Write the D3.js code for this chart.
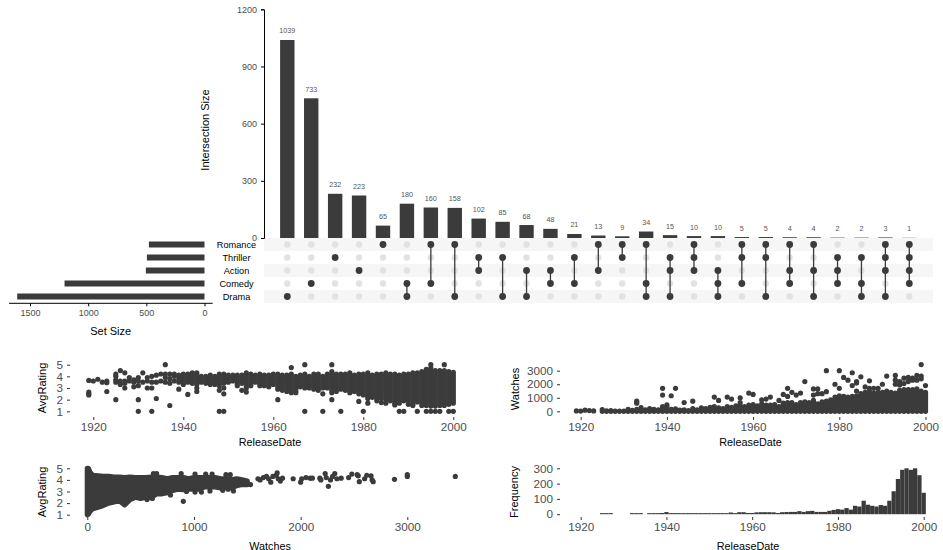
<!DOCTYPE html>
<html><head><meta charset="utf-8">
<script src="https://cdn.jsdelivr.net/npm/d3@7/dist/d3.min.js"></script>
<style>html,body{margin:0;padding:0;background:#fff}svg{display:block}text{font-family:"Liberation Sans",Arial,sans-serif}</style>
</head><body><svg id="c" width="943" height="550"></svg>
<script>
// ---------- UpSet data ----------
const setNames = ["Romance","Thriller","Action","Comedy","Drama"];
const setSizes = [478,495,504,1203,1610];
const intersectionSizes = [1039,733,232,223,65,180,160,158,102,85,68,48,21,13,9,34,15,10,10,5,5,4,4,2,2,3,1];
const intersectionSets = ["D","C","T","A","R","CD","RC","RD","TA","TD","AD","AC","TC","RA","RT","RCD","TAD","RTA","ACD","RTC","RTD","RAC","RAD","TAC","TCD","RTAD","RTAC"];
const setKeys = ["R","T","A","C","D"];
const intersectionTicks = [0,300,600,900,1200];
const setSizeTicks = [0,500,1000,1500];
// ---------- AvgRating vs ReleaseDate: [year, low, high] of overplotted bands ----------
const ratingYearBands = [[1940,3.3,4.2],[1941,3.5,4.2],[1942,3.4,4.3],[1943,3.3,4.3],[1944,3.5,4.0],[1945,3.4,4.0],[1946,3.3,4.1],[1947,3.3,4.0],[1948,3.2,4.2],[1949,3.4,4.2],[1950,3.5,4.1],[1951,3.6,4.1],[1952,3.2,4.1],[1953,3.4,4.1],[1954,3.0,4.3],[1955,3.2,4.2],[1956,3.5,4.1],[1957,3.2,4.2],[1958,3.2,4.1],[1959,3.1,4.1],[1960,3.3,4.2],[1961,2.9,4.2],[1962,2.8,4.1],[1963,2.7,4.1],[1964,2.6,4.2],[1965,2.6,4.0],[1966,3.1,4.1],[1967,3.0,4.2],[1968,3.0,4.0],[1969,2.9,4.2],[1970,2.8,4.2],[1971,3.0,4.0],[1972,3.0,4.2],[1973,2.6,4.4],[1974,2.7,4.2],[1975,2.9,4.2],[1976,2.8,4.2],[1977,2.6,4.3],[1978,2.7,4.1],[1979,2.5,4.2],[1980,2.4,4.2],[1981,2.1,4.3],[1982,2.2,4.1],[1983,2.1,4.2],[1984,2.1,4.2],[1985,2.0,4.3],[1986,1.9,4.2],[1987,1.7,4.2],[1988,1.7,4.1],[1989,1.9,4.2],[1990,1.9,4.2],[1991,1.6,4.3],[1992,1.8,4.3],[1993,1.7,4.4],[1994,1.5,4.6],[1995,1.45,4.7],[1996,1.45,4.5],[1997,1.5,4.5],[1998,1.5,4.5],[1999,1.6,4.4],[2000,1.7,4.35]];
const ratingYearPoints = [[1919,2.4],[1919,2.5],[1919,2.65],[1919,3.65],[1920,3.6],[1921,3.75],[1922,3.5],[1923,3.45],[1923,3.6],[1923,2.7],[1925,2.0],[1925,3.5],[1925,3.7],[1925,4.0],[1925,4.2],[1926,3.3],[1926,3.6],[1926,4.5],[1927,3.0],[1927,3.4],[1927,3.6],[1927,4.3],[1928,3.9],[1928,3.6],[1929,3.1],[1929,3.5],[1929,3.7],[1930,1],[1930,2],[1930,3.2],[1930,3.6],[1930,3.9],[1931,3.5],[1931,4.3],[1932,3.0],[1932,3.6],[1932,3.9],[1933,1],[1933,3.0],[1933,3.5],[1933,4.0],[1934,2.1],[1934,3.5],[1934,4.1],[1935,3.6],[1935,4.2],[1936,5],[1936,3.5],[1936,3.9],[1936,4.2],[1937,1.5],[1937,3.4],[1937,3.8],[1937,4.2],[1938,3.6],[1938,4.0],[1938,4.2],[1939,2.9],[1939,3.5],[1939,3.8],[1939,4.1],[1941,2.45],[1943,2.7],[1943,3.0],[1948,1],[1948,2.8],[1949,1],[1949,2.5],[1949,3.0],[1953,2.8],[1954,2.65],[1961,2.0],[1964,4.75],[1967,5],[1967,1],[1971,1],[1971,2.5],[1973,5],[1973,2.0],[1975,1],[1979,1.85],[1980,1],[1981,1.7],[1983,1.9],[1984,1.75],[1985,1.7],[1987,1.55],[1988,1],[1989,1],[1990,1.6],[1991,1.5],[1992,1],[1993,1.5],[1994,1],[1995,1],[1995,5],[1996,1],[1997,1],[1998,5],[1999,1],[2000,1]];
// ---------- Watches vs ReleaseDate: [year, top of band] ----------
const watchYearBands = [[1925,130],[1926,30],[1927,60],[1928,20],[1929,10],[1930,10],[1931,150],[1932,70],[1933,150],[1934,270],[1935,100],[1936,200],[1937,150],[1938,100],[1939,350],[1940,470],[1941,150],[1942,180],[1943,80],[1944,100],[1945,60],[1946,200],[1947,100],[1948,250],[1949,200],[1950,300],[1951,350],[1952,250],[1953,200],[1954,350],[1955,300],[1956,400],[1957,400],[1958,350],[1959,450],[1960,500],[1961,400],[1962,550],[1963,450],[1964,450],[1965,500],[1966,350],[1967,600],[1968,650],[1969,650],[1970,500],[1971,650],[1972,700],[1973,650],[1974,800],[1975,550],[1976,700],[1977,750],[1978,850],[1979,1050],[1980,1150],[1981,1100],[1982,1050],[1983,1100],[1984,1150],[1985,1300],[1986,1400],[1987,1450],[1988,1350],[1989,1400],[1990,1400],[1991,1250],[1992,1150],[1993,1350],[1994,1550],[1995,1600],[1996,1600],[1997,1600],[1998,1650],[1999,1500],[2000,1400]];
const watchYearPoints = [[1919,30],[1920,20],[1921,80],[1922,50],[1923,30],[1933,600],[1933,750],[1939,1200],[1939,1700],[1941,1150],[1942,1700],[1944,650],[1946,750],[1951,1050],[1952,800],[1954,1050],[1955,900],[1957,1000],[1957,650],[1959,1350],[1960,1250],[1962,850],[1963,900],[1964,1050],[1966,800],[1967,1250],[1968,1700],[1968,1100],[1969,1400],[1970,1200],[1971,1350],[1972,2200],[1974,1650],[1974,1200],[1975,1650],[1975,1300],[1976,1300],[1977,3000],[1977,1450],[1979,2000],[1980,3000],[1980,1700],[1981,2500],[1982,2300],[1983,2850],[1983,1900],[1984,2200],[1984,2100],[1984,1500],[1985,2550],[1986,1800],[1987,2250],[1987,1700],[1988,1700],[1989,1700],[1990,2000],[1991,2600],[1991,1500],[1992,1400],[1993,2650],[1993,2300],[1993,2000],[1994,2200],[1994,1950],[1995,2450],[1995,2050],[1996,2500],[1996,2200],[1997,2450],[1997,2300],[1998,2650],[1998,2300],[1999,3450],[1999,2600],[1999,2400],[2000,1900]];
// ---------- AvgRating vs Watches: [watches, low, high] ----------
const ratingWatchBands = [[0,1,5],[10,1.05,5],[25,1.3,4.65],[50,1.5,4.4],[100,1.65,4.35],[150,1.8,4.3],[200,2.0,4.3],[250,2.1,4.25],[300,2.2,4.25],[350,1.85,4.2],[400,2.3,4.25],[450,2.5,4.2],[500,2.4,4.2],[550,2.5,4.2],[600,2.5,4.25],[650,2.8,4.25],[700,2.8,4.2],[750,2.9,4.1],[800,3.1,4.2],[850,3.2,4.2],[900,3.15,4.2],[950,3.2,4.1],[1000,3.2,4.2],[1050,3.2,4.2],[1100,3.4,4.2],[1150,3.4,4.2],[1200,3.4,4.2],[1250,3.3,4.1],[1300,3.4,4.1],[1350,3.3,4.0],[1400,3.5,4.1],[1450,3.6,4.0],[1500,3.6,3.9]];
const ratingWatchPoints = [[560,2.3],[610,2.4],[780,2.7],[930,3.0],[1010,2.95],[1070,2.95],[1150,3.05],[1270,3.1],[1320,3.2],[1370,3.05],[620,4.55],[650,4.55],[880,4.55],[1010,4.5],[1110,4.5],[1170,4.5],[1300,4.45],[1340,4.45],[900,2.15],[1530,3.6],[1600,4.1],[1620,4.0],[1650,4.2],[1680,4.3],[1700,4.1],[1720,3.8],[1740,4.3],[1770,4.4],[1780,4.6],[1790,4.1],[1810,3.9],[1830,4.15],[1930,4.1],[2000,3.8],[2010,4.1],[2050,4.2],[2090,4.15],[2110,4.15],[2180,4.15],[2190,4.0],[2230,4.55],[2240,4.2],[2260,3.45],[2280,4.0],[2300,4.3],[2320,4.55],[2340,4.1],[2380,4.15],[2450,4.2],[2480,4.5],[2530,4.45],[2540,4.35],[2550,3.85],[2600,4.1],[2620,4.4],[2660,4.35],[2670,4.0],[2680,3.85],[2880,4.05],[3000,4.3],[3000,4.45],[3450,4.3]];
// ---------- Histogram of ReleaseDate: [year, count] ----------
const releaseCounts = [[1925,7],[1926,7],[1927,7],[1932,7],[1933,7],[1934,7],[1936,7],[1937,7],[1938,7],[1939,8],[1940,14],[1941,7],[1942,7],[1943,7],[1944,7],[1945,7],[1946,7],[1947,7],[1948,7],[1949,7],[1950,7],[1951,7],[1952,7],[1953,7],[1954,7],[1955,11],[1956,7],[1957,13],[1958,13],[1959,8],[1960,8],[1961,12],[1962,13],[1963,13],[1964,13],[1965,12],[1966,8],[1967,13],[1968,14],[1969,15],[1970,15],[1971,20],[1972,15],[1973,20],[1974,22],[1975,15],[1976,15],[1977,15],[1978,22],[1979,28],[1980,33],[1981,30],[1982,40],[1983,30],[1984,55],[1985,50],[1986,88],[1987,62],[1988,55],[1989,50],[1990,60],[1991,55],[1992,88],[1993,150],[1994,230],[1995,290],[1996,300],[1997,290],[1998,300],[1999,255],[2000,140]];
const yearTicks = [1920,1940,1960,1980,2000];
const ratingTicks = [1,2,3,4,5];
const watchAxisTicks = [0,1000,2000,3000];
const freqTicks = [0,100,200,300];

const svg = d3.select("#c");
const DARK = "#3b3b3b", GREY = "#4d4d4d";
const plain = d3.format("d");

// ===== UpSet =====
const xI = d3.scaleLinear().domain([0,26]).range([287.3,909.3]);
const yI = d3.scaleLinear().domain([0,1200]).range([238,9.3]);
const yRow = d3.scalePoint().domain(setKeys).range([244.5,296.5]);
const rowH = 13;
const barW = 14.4;

svg.append("g").selectAll("rect").data(setKeys.filter((d,i)=>i%2===0)).join("rect")
  .attr("x",264).attr("width",669).attr("y",d=>yRow(d)-rowH/2).attr("height",rowH).attr("fill","#f6f6f6");

svg.append("g").selectAll("rect").data(intersectionSizes).join("rect")
  .attr("x",(d,i)=>xI(i)-barW/2).attr("width",barW)
  .attr("y",d=>yI(d)).attr("height",d=>yI(0)-yI(d)).attr("fill",DARK);
svg.append("g").selectAll("text").data(intersectionSizes).join("text")
  .attr("x",(d,i)=>xI(i)).attr("y",d=>yI(d)-6.5).attr("text-anchor","middle")
  .attr("font-size",7.2).attr("fill","#555").text(d=>d);

const axI = svg.append("g").attr("transform","translate(264,0)")
  .call(d3.axisLeft(yI).tickValues(intersectionTicks).tickSize(3).tickPadding(4).tickFormat(plain));
axI.select(".domain").attr("stroke","#000").attr("stroke-width",1);
axI.selectAll(".tick line").attr("stroke","#000");
axI.selectAll("text").attr("font-size",9).attr("fill",GREY).style("font-family","'Liberation Sans'");
svg.append("text").attr("transform","translate(209,130) rotate(-90)").attr("text-anchor","middle")
  .attr("font-size",11).attr("fill","#000").text("Intersection Size");

const matrix = intersectionSets.flatMap((s,i)=>setKeys.map(k=>({i,k,on:s.includes(k)})));
svg.append("g").selectAll("circle").data(matrix.filter(d=>!d.on)).join("circle")
  .attr("cx",d=>xI(d.i)).attr("cy",d=>yRow(d.k)).attr("r",3.2).attr("fill","#e2e2e2");
svg.append("g").selectAll("line").data(intersectionSets.map((s,i)=>({i,s})).filter(d=>d.s.length>1)).join("line")
  .attr("x1",d=>xI(d.i)).attr("x2",d=>xI(d.i))
  .attr("y1",d=>yRow(setKeys.find(k=>d.s.includes(k))))
  .attr("y2",d=>yRow([...setKeys].reverse().find(k=>d.s.includes(k))))
  .attr("stroke",DARK).attr("stroke-width",1.3);
svg.append("g").selectAll("circle").data(matrix.filter(d=>d.on)).join("circle")
  .attr("cx",d=>xI(d.i)).attr("cy",d=>yRow(d.k)).attr("r",3.4).attr("fill",DARK);

const xS = d3.scaleLinear().domain([0,1500]).range([204.5,30]);
svg.append("g").selectAll("rect").data(setSizes).join("rect")
  .attr("x",d=>xS(d)).attr("width",d=>xS(0)-xS(d))
  .attr("y",(d,i)=>yRow(setKeys[i])-3).attr("height",6).attr("fill",DARK);
svg.append("line").attr("x1",9).attr("x2",212.7).attr("y1",303.3).attr("y2",303.3).attr("stroke","#000");
const axS = svg.append("g").attr("transform","translate(0,303.3)")
  .call(d3.axisBottom(xS).tickValues(setSizeTicks).tickSize(3).tickPadding(3).tickFormat(plain));
axS.select(".domain").remove();
axS.selectAll(".tick line").attr("stroke","#000");
axS.selectAll("text").attr("font-size",9).attr("fill",GREY).style("font-family","'Liberation Sans'");
svg.append("text").attr("x",110.7).attr("y",335).attr("text-anchor","middle").attr("font-size",11).attr("fill","#000").text("Set Size");
svg.append("g").selectAll("text").data(setNames).join("text")
  .attr("x",236.5).attr("y",(d,i)=>yRow(setKeys[i])+3.3).attr("text-anchor","middle")
  .attr("font-size",9.2).attr("fill","#000").text(d=>d);

// ===== small panels =====
function panel(o){
  const g = svg.append("g");
  g.append("g").attr("transform",`translate(${o.tickX},0)`)
    .call(d3.axisLeft(o.y).tickValues(o.yt).tickSize(3).tickPadding(4).tickFormat(plain))
    .call(a=>{a.select(".domain").remove();a.selectAll(".tick line").attr("stroke","#333");
      a.selectAll("text").attr("font-size",11.7).attr("fill",GREY).style("font-family","'Liberation Sans'");});
  g.append("g").attr("transform",`translate(0,${o.tickY})`)
    .call(d3.axisBottom(o.x).tickValues(o.xt).tickSize(3).tickPadding(3).tickFormat(plain))
    .call(a=>{a.select(".domain").remove();a.selectAll(".tick line").attr("stroke","#333");
      a.selectAll("text").attr("font-size",11.7).attr("fill",GREY).style("font-family","'Liberation Sans'");});
  g.append("text").attr("transform",`translate(${o.ylx},${o.yly}) rotate(-90)`).attr("text-anchor","middle")
    .attr("font-size",11).attr("fill","#000").text(o.yl);
  g.append("text").attr("x",o.xlx).attr("y",o.xly).attr("text-anchor","middle")
    .attr("font-size",10.8).attr("fill","#000").text(o.xl);
  return g;
}
const R = 2.6;
function scatter(g,x,y,bands,pts){
  g.append("g").selectAll("line").data(bands).join("line")
    .attr("x1",d=>x(d[0])).attr("x2",d=>x(d[0])).attr("y1",d=>y(d[1])).attr("y2",d=>y(d[2]))
    .attr("stroke",DARK).attr("stroke-width",R*2).attr("stroke-linecap","round");
  dots(g,x,y,pts);
}
function dots(g,x,y,pts){
  g.append("g").selectAll("circle").data(pts).join("circle")
    .attr("cx",d=>x(d[0])).attr("cy",d=>y(d[1])).attr("r",R).attr("fill",DARK);
}

const x1 = d3.scaleLinear().domain([1920,2000]).range([93.3,453.3]);
const y1 = d3.scaleLinear().domain([1,5]).range([411.3,364.7]);
const g1 = panel({x:x1,y:y1,xt:yearTicks,yt:ratingTicks,tickX:70,tickY:417,yl:"AvgRating",ylx:46,yly:388,xl:"ReleaseDate",xlx:270,xly:446});
scatter(g1,x1,y1,ratingYearBands,ratingYearPoints);

const x2 = d3.scaleLinear().domain([1920,2000]).range([580.7,925.5]);
const y2 = d3.scaleLinear().domain([0,3000]).range([411.3,370.7]);
const g2 = panel({x:x2,y:y2,xt:yearTicks,yt:[0,1000,2000,3000],tickX:560,tickY:417,yl:"Watches",ylx:519,yly:389,xl:"ReleaseDate",xlx:750.5,xly:446});
scatter(g2,x2,y2,watchYearBands.map(d=>[d[0],0,d[1]]),watchYearPoints);

const x3 = d3.scaleLinear().domain([0,3000]).range([87.3,407.3]);
const y3 = d3.scaleLinear().domain([1,5]).range([514.7,468.3]);
const g3 = panel({x:x3,y:y3,xt:watchAxisTicks,yt:ratingTicks,tickX:70,tickY:517,yl:"AvgRating",ylx:46,yly:492,xl:"Watches",xlx:270,xly:549.5});
g3.append("path").datum(ratingWatchBands)
  .attr("d",d3.area().x(d=>x3(d[0])).y0(d=>y3(d[1])).y1(d=>y3(d[2])))
  .attr("fill",DARK).attr("stroke",DARK).attr("stroke-width",R*2).attr("stroke-linejoin","round");
dots(g3,x3,y3,ratingWatchPoints);

const x4 = d3.scaleLinear().domain([1920,2000]).range([580.7,923.7]);
const y4 = d3.scaleLinear().domain([0,300]).range([514.2,468.3]);
const g4 = panel({x:x4,y:y4,xt:yearTicks,yt:freqTicks,tickX:560,tickY:517,yl:"Frequency",ylx:518,yly:492,xl:"ReleaseDate",xlx:748,xly:549.5});
g4.append("g").selectAll("rect").data(releaseCounts).join("rect")
  .attr("x",d=>x4(d[0]-0.5)).attr("width",x4(1921)-x4(1920))
  .attr("y",d=>y4(d[1])).attr("height",d=>y4(0)-y4(d[1])).attr("fill",DARK);
</script></body></html>
